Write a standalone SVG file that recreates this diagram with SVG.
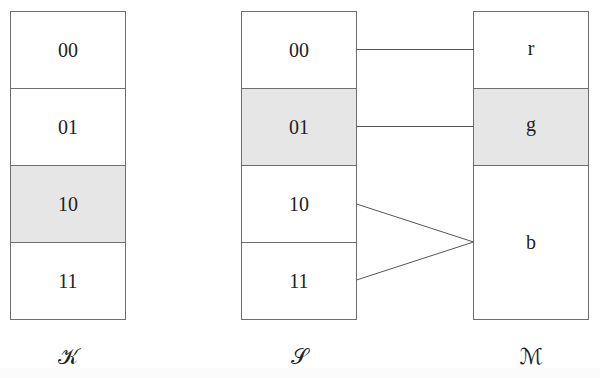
<svg xmlns="http://www.w3.org/2000/svg" width="600" height="378" viewBox="0 0 600 378">
<style>
.cell{fill:#ffffff;stroke:#6e6e6e;stroke-width:1}
.hl{fill:#e6e6e6}
.t{font-family:"Liberation Serif","DejaVu Serif",serif;font-size:20px;fill:#222;text-anchor:middle}
.cal{font-family:"DejaVu Sans","DejaVu Serif",serif;font-size:22px;fill:#222;text-anchor:middle}
.conn{stroke:#555;stroke-width:1;fill:none}
</style>
<rect x="0" y="0" width="600" height="378" fill="#ffffff"/>
<rect x="0" y="368" width="600" height="10" fill="#fbfbfb"/>
<g id="K">
<g id="K00"><rect class="cell" x="10.5" y="11.5" width="115" height="77"/><text class="t" x="68" y="56.5">00</text></g>
<g id="K01"><rect class="cell" x="10.5" y="88.5" width="115" height="77"/><text class="t" x="68" y="133.5">01</text></g>
<g id="K10"><rect class="cell hl" x="10.5" y="165.5" width="115" height="77"/><text class="t" x="68" y="210.5">10</text></g>
<g id="K11"><rect class="cell" x="10.5" y="242.5" width="115" height="77"/><text class="t" x="68" y="287.5">11</text></g>
<text class="cal" x="68" y="364">𝒦</text>
</g>
<g id="S">
<g id="S00"><rect class="cell" x="241.5" y="11.5" width="115" height="77"/><text class="t" x="299" y="56.5">00</text></g>
<g id="S01"><rect class="cell hl" x="241.5" y="88.5" width="115" height="77"/><text class="t" x="299" y="133.5">01</text></g>
<g id="S10"><rect class="cell" x="241.5" y="165.5" width="115" height="77"/><text class="t" x="299" y="210.5">10</text></g>
<g id="S11"><rect class="cell" x="241.5" y="242.5" width="115" height="77"/><text class="t" x="299" y="287.5">11</text></g>
<text class="cal" x="299" y="364">𝒮</text>
</g>
<g id="M">
<g id="Mr"><rect class="cell" x="473.5" y="11.5" width="115" height="77"/><text class="t" x="531" y="55">r</text></g>
<g id="Mg"><rect class="cell hl" x="473.5" y="88.5" width="115" height="77"/><text class="t" x="531" y="131">g</text></g>
<g id="Mb"><rect class="cell" x="473.5" y="165.5" width="115" height="154"/><text class="t" x="531" y="249">b</text></g>
<text class="cal" x="531" y="364">ℳ</text>
</g>
<g id="connectors">
<line class="conn" x1="356.5" y1="49.5" x2="473.5" y2="49.5"/>
<line class="conn" x1="356.5" y1="126.5" x2="473.5" y2="126.5"/>
<line class="conn" x1="356.5" y1="204" x2="473.5" y2="242"/>
<line class="conn" x1="356.5" y1="280" x2="473.5" y2="242"/>
</g>
</svg>
